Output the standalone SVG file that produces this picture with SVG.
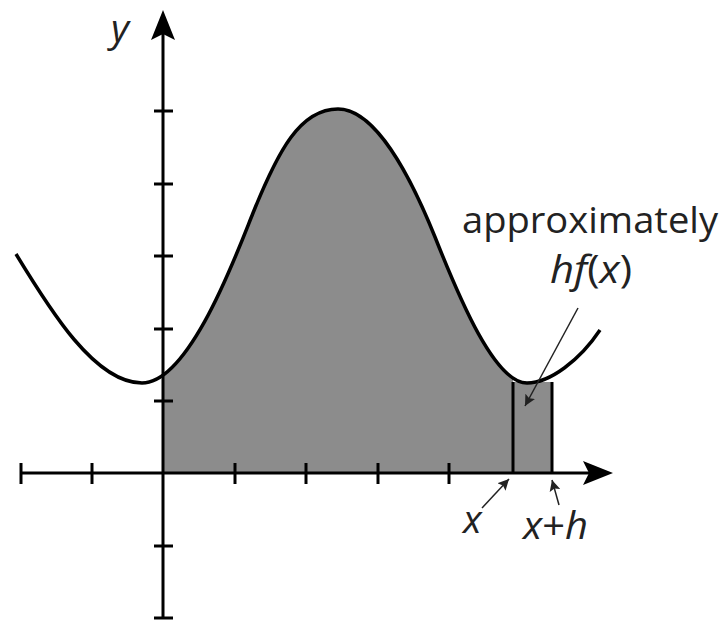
<svg xmlns="http://www.w3.org/2000/svg" width="726" height="620" viewBox="0 0 726 620">
<style>
.ax{stroke:#000;stroke-width:3;fill:none}
.tk{stroke:#000;stroke-width:3}
.crv{stroke:#000;stroke-width:3.5;fill:none}
.sh{fill:#8c8c8c}
.lbl{font-family:"Open Sans","Liberation Sans",sans-serif;font-size:37px;fill:#222}
.it{font-style:italic}
.ptr{stroke:#222;stroke-width:1.5;fill:none}
</style>
<defs>
<marker id="ah" viewBox="0 0 10 10" refX="10" refY="5" markerWidth="11" markerHeight="11" markerUnits="userSpaceOnUse" orient="auto">
<path d="M0,0 L10,5 L0,10 L2,5 Z" fill="#222"/>
</marker>
<clipPath id="cl"><rect x="163" y="0" width="350" height="473"/></clipPath>
</defs>
<g id="area">
<path class="sh" clip-path="url(#cl)" d="M16,254 C50,310 95,383 142,383 C190,383 238,250 253,213 C278,151 300,109 338,109 C375,109 410,175 435,237 C460,300 495,383 527,383 C550,383 580,360 600,330 L600,473 L16,473 Z"/>
<rect class="sh" x="513" y="382" width="39" height="91"/>
</g>
<g id="axes">
<line class="ax" x1="163" y1="618" x2="163" y2="30"/>
<polygon points="163,10 175,40 163,34 151,40" fill="#000"/>
<line class="ax" x1="21" y1="473" x2="592" y2="473"/>
<polygon points="613,473 583,461 589,473 583,485" fill="#000"/>
<g id="yticks">
<line class="tk" x1="154" y1="111" x2="173" y2="111"/>
<line class="tk" x1="154" y1="184" x2="173" y2="184"/>
<line class="tk" x1="154" y1="256" x2="173" y2="256"/>
<line class="tk" x1="154" y1="329" x2="173" y2="329"/>
<line class="tk" x1="154" y1="401" x2="173" y2="401"/>
<line class="tk" x1="154" y1="546" x2="173" y2="546"/>
<line class="tk" x1="154" y1="618" x2="173" y2="618"/>
</g>
<g id="xticks">
<line class="tk" x1="21" y1="463" x2="21" y2="484"/>
<line class="tk" x1="92" y1="463" x2="92" y2="484"/>
<line class="tk" x1="235" y1="463" x2="235" y2="484"/>
<line class="tk" x1="306" y1="463" x2="306" y2="484"/>
<line class="tk" x1="378" y1="463" x2="378" y2="484"/>
<line class="tk" x1="449" y1="463" x2="449" y2="484"/>
</g>
</g>
<g id="curve">
<path class="crv" d="M16,254 C50,310 95,383 142,383 C190,383 238,250 253,213 C278,151 300,109 338,109 C375,109 410,175 435,237 C460,300 495,383 527,383 C550,383 580,360 600,330"/>
</g>
<g id="strip">
<line class="ax" x1="513" y1="382" x2="513" y2="473"/>
<line class="ax" x1="552" y1="382" x2="552" y2="473"/>
</g>
<g id="connectors">
<line class="ptr" x1="578" y1="308" x2="525" y2="406" marker-end="url(#ah)"/>
<line class="ptr" x1="482" y1="508" x2="509" y2="479" marker-end="url(#ah)"/>
<line class="ptr" x1="559" y1="505" x2="552" y2="480" marker-end="url(#ah)"/>
</g>
<g id="labels">
<text class="lbl it" x="111" y="42" style="font-size:39px">y</text>
<text class="lbl" x="462" y="233" textLength="256" lengthAdjust="spacingAndGlyphs">approximately</text>
<text class="lbl" x="550" y="283" style="font-size:39px" textLength="82" lengthAdjust="spacingAndGlyphs"><tspan class="it">hf</tspan>(<tspan class="it">x</tspan>)</text>
<text class="lbl it" x="463" y="533" style="font-size:39px">x</text>
<text class="lbl" x="523" y="539" style="font-size:39px" textLength="65" lengthAdjust="spacingAndGlyphs"><tspan class="it">x</tspan>+<tspan class="it">h</tspan></text>
</g>
</svg>
